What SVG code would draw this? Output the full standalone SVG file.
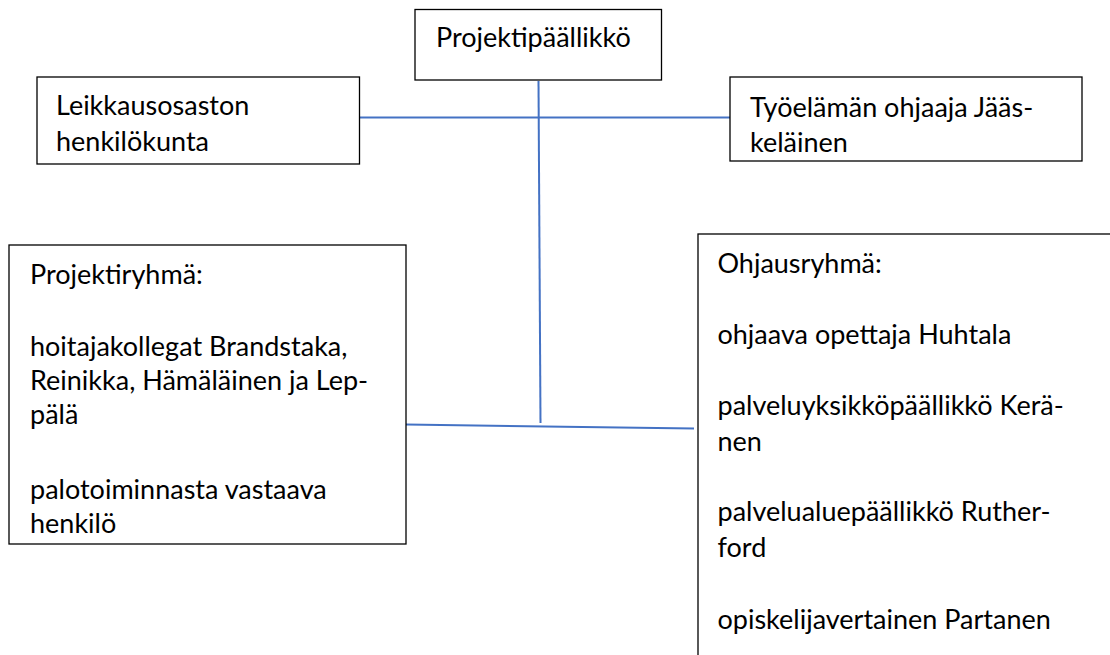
<svg xmlns="http://www.w3.org/2000/svg" width="1110" height="655" viewBox="0 0 1110 655">
<style>
.box{fill:#ffffff;stroke:#000000;stroke-width:1.3}
.t{font-family:Lato,"Liberation Sans",sans-serif;font-size:27px;fill:#000000}
.c{stroke:#4472C4;stroke-width:2;fill:none}
</style>
<rect width="1110" height="655" fill="#ffffff"/>
<g id="connectors">
<line class="c" x1="538.5" y1="81" x2="540.5" y2="423"/>
<line class="c" x1="360" y1="117.5" x2="730" y2="117.5"/>
<line class="c" x1="406" y1="424.5" x2="694" y2="428.5"/>
</g>
<g id="projektipaallikko">
<rect class="box" x="415" y="9.5" width="246.5" height="70.5"/>
<text class="t" x="436" y="47">Projektipäällikkö</text>
</g>
<g id="leikkausosasto">
<rect class="box" x="37" y="77" width="322.5" height="87"/>
<text class="t" x="56" y="115">Leikkausosaston</text>
<text class="t" x="56" y="150.5">henkilökunta</text>
</g>
<g id="tyoelama">
<rect class="box" x="730" y="77" width="352" height="84"/>
<text class="t" x="750" y="116.5">Työelämän ohjaaja Jääs-</text>
<text class="t" x="750" y="151.5">keläinen</text>
</g>
<g id="projektiryhma">
<rect class="box" x="9" y="245" width="397" height="299"/>
<text class="t" x="30" y="283.5">Projektiryhmä:</text>
<text class="t" x="30" y="356">hoitajakollegat Brandstaka,</text>
<text class="t" x="30" y="390">Reinikka, Hämäläinen ja Lep-</text>
<text class="t" x="30" y="424">pälä</text>
<text class="t" x="30" y="499">palotoiminnasta vastaava</text>
<text class="t" x="30" y="533">henkilö</text>
</g>
<g id="ohjausryhma">
<rect class="box" x="698" y="234" width="430" height="440"/>
<text class="t" x="717.5" y="273">Ohjausryhmä:</text>
<text class="t" x="717.5" y="343.5">ohjaava opettaja Huhtala</text>
<text class="t" x="717.5" y="415">palveluyksikköpäällikkö Kerä-</text>
<text class="t" x="717.5" y="450.5">nen</text>
<text class="t" x="717.5" y="520.5">palvelualuepäällikkö Ruther-</text>
<text class="t" x="717.5" y="557">ford</text>
<text class="t" x="717.5" y="629">opiskelijavertainen Partanen</text>
</g>
</svg>
